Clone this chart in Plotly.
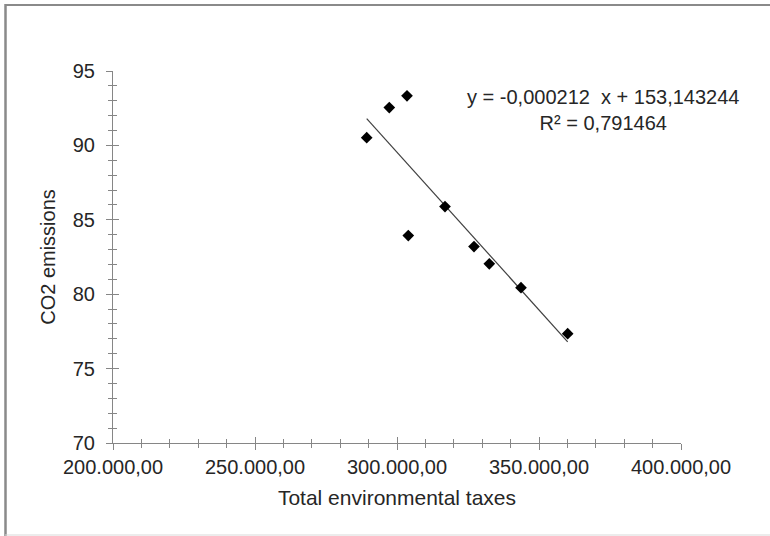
import plotly.graph_objects as go

# ---- data ----
taxes = [289330, 297290, 303520, 303975, 316900, 327110, 332500, 343660, 360100]
co2 = [90.52, 92.54, 93.33, 83.94, 85.89, 83.20, 82.04, 80.44, 77.35]
slope = -0.000212
intercept = 153.143244
r2 = 0.791464
x_tickvals = [200000, 250000, 300000, 350000, 400000]
x_ticktext = ["200.000,00", "250.000,00", "300.000,00", "350.000,00", "400.000,00"]
y_tickvals = [70, 75, 80, 85, 90, 95]
x_minor = list(range(200000, 400001, 10000))
y_minor = list(range(70, 96, 1))

eq_text = "y = -0,000212  x + 153,143244<br>R² = 0,791464"

FONT = "Liberation Sans, Arial, sans-serif"
AX = "#868686"
TXT = "#262626"

x_fit = [min(taxes), max(taxes)]
y_fit = [slope * v + intercept for v in x_fit]

fig = go.Figure()
fig.add_trace(go.Scatter(x=x_fit, y=y_fit, mode="lines",
                         line=dict(color="#404040", width=1.2),
                         hoverinfo="skip", showlegend=False))
fig.add_trace(go.Scatter(x=taxes, y=co2, mode="markers",
                         marker=dict(symbol="diamond", size=9, color="black"),
                         showlegend=False))
# invisible trace carrying the overlay axes used for the inner half of the ticks
fig.add_trace(go.Scatter(x=taxes, y=co2, mode="markers", xaxis="x2", yaxis="y2",
                         marker=dict(opacity=0), hoverinfo="skip", showlegend=False))

W, H = 770, 536
L, R, T, B = 113, 89, 71, 93
pw, ph = W - L - R, H - T - B

def px(xp):
    return (xp - L) / pw

def py(yp):
    return (H - B - yp) / ph

common_x = dict(range=[200000, 400000], showgrid=False, zeroline=False,
                tickmode="array", tickvals=x_tickvals, ticklen=6, tickwidth=1,
                tickcolor=AX)
common_y = dict(range=[70, 95], showgrid=False, zeroline=False,
                tickmode="array", tickvals=y_tickvals, ticklen=6, tickwidth=1,
                tickcolor=AX)

fig.update_layout(
    width=W, height=H,
    margin=dict(l=L, r=R, t=T, b=B),
    paper_bgcolor="white", plot_bgcolor="white",
    font=dict(family=FONT, size=20, color=TXT),
    xaxis=dict(**common_x, ticktext=x_ticktext, ticks="outside",
               showline=True, linecolor=AX, linewidth=1,
               tickfont=dict(size=20, color=TXT),
               minor=dict(tickmode="array", tickvals=x_minor, ticks="outside",
                          ticklen=4, tickcolor=AX, tickwidth=1),
               title=dict(text="Total environmental taxes", font=dict(size=21, color=TXT),
                          standoff=13)),
    yaxis=dict(**common_y, ticks="outside",
               showline=True, linecolor=AX, linewidth=1,
               tickfont=dict(size=20, color=TXT), ticklabelstandoff=7,
               minor=dict(tickmode="array", tickvals=y_minor, ticks="outside",
                          ticklen=4, tickcolor=AX, tickwidth=1),
               title=dict(text="CO2 emissions", font=dict(size=20, color=TXT),
                          standoff=11)),
    xaxis2=dict(**common_x, overlaying="x", anchor="y2", side="bottom",
                ticks="inside", showticklabels=False, showline=False,
                minor=dict(tickmode="array", tickvals=x_minor, ticks="inside",
                           ticklen=4, tickcolor=AX, tickwidth=1)),
    yaxis2=dict(**common_y, overlaying="y", anchor="x2", side="left",
                ticks="inside", showticklabels=False, showline=False,
                minor=dict(tickmode="array", tickvals=y_minor, ticks="inside",
                           ticklen=4, tickcolor=AX, tickwidth=1)),
    shapes=[
        dict(type="line", xref="paper", yref="paper", x0=px(5), x1=px(775),
             y0=py(5), y1=py(5), line=dict(color="#8a8a8a", width=2)),
        dict(type="line", xref="paper", yref="paper", x0=px(5.5), x1=px(5.5),
             y0=py(4), y1=py(536), line=dict(color="#8a8a8a", width=2.5)),
        dict(type="line", xref="paper", yref="paper", x0=px(5), x1=px(775),
             y0=py(535), y1=py(535), line=dict(color="#d9d9d9", width=1)),
    ],
    annotations=[
        dict(text=eq_text, xref="paper", yref="paper", x=px(603), y=py(110),
             xanchor="center", yanchor="middle", showarrow=False, align="center",
             font=dict(size=20, color=TXT)),
    ],
)

fig.write_html("out.html")
